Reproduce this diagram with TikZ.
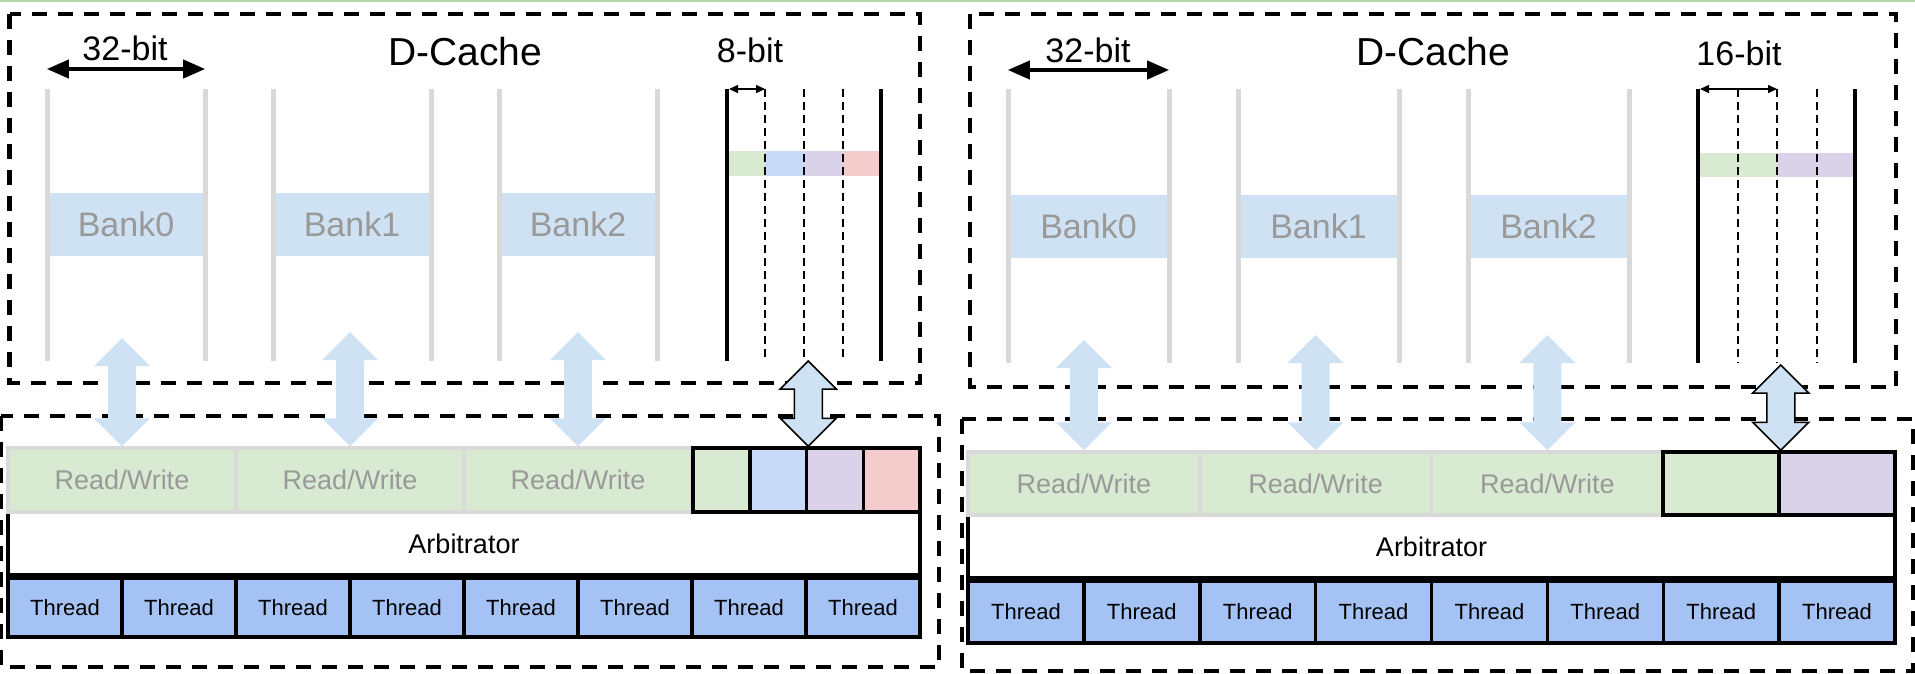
\documentclass[tikz,border=0pt]{standalone}
\usepackage{fontspec}
\setmainfont{Liberation Sans}
\usetikzlibrary{arrows.meta,calc}

\definecolor{wallgray}{HTML}{D9D9D9}
\definecolor{labelgray}{HTML}{999999}
\definecolor{bankblue}{HTML}{CFE2F3}
\definecolor{rwgreen}{HTML}{D9EAD3}
\definecolor{slotgreen}{HTML}{D9EAD3}
\definecolor{slotblue}{HTML}{C9DAF8}
\definecolor{slotpurple}{HTML}{D9D2E9}
\definecolor{slotred}{HTML}{F4CCCC}
\definecolor{threadblue}{HTML}{A4C2F4}
\definecolor{edgegreen}{HTML}{B6D7A8}

\newcommand{\busarrow}[3][bus]{\path[#1] (#2) -- ($(#2)+(28,28)$) -- ($(#2)+(14,28)$) -- ($(#3)+(14,-28)$) -- ($(#3)+(28,-28)$) -- (#3) -- ($(#3)+(-28,-28)$) -- ($(#3)+(-14,-28)$) -- ($(#2)+(-14,28)$) -- ($(#2)+(-28,28)$) -- cycle;}

\begin{document}
\begin{tikzpicture}[x=1pt,y=-1pt,
    framebox/.style={line width=4.5pt,dash pattern=on 15pt off 11pt},
    wall/.style={draw=wallgray,line width=5pt},
    rail/.style={line width=4.5pt},
    lane/.style={line width=1.5pt,dash pattern=on 8pt off 5pt},
    bank/.style={fill=bankblue,text=labelgray,inner sep=0pt,minimum height=63pt,font=\fontsize{34}{40}\selectfont},
    rw/.style={draw=wallgray,line width=3.5pt,fill=rwgreen,text=labelgray,minimum height=64pt,font=\fontsize{27}{32}\selectfont},
    slot/.style={draw,line width=3.5pt,minimum height=64pt},
    arb/.style={draw,line width=3.5pt,fill=white,minimum height=63pt,font=\fontsize{27}{32}\selectfont},
    thread/.style={draw,line width=3.5pt,fill=threadblue,font=\fontsize{22}{26}\selectfont},
    dimline/.style={line width=4pt,>={Triangle[length=22pt,width=18pt]},<->},
    dimtick/.style={line width=1.5pt,>={Triangle[length=9pt,width=8pt]},<->},
    bus/.style={fill=bankblue},
    busline/.style={fill=bankblue,draw,line width=1.5pt},
    cachetitle/.style={font=\fontsize{39}{44}\selectfont},
    bitlabel/.style={font=\fontsize{34}{40}\selectfont}]
\useasboundingbox (0,0) rectangle (1915,673);
\draw[edgegreen,line width=2.5pt] (0,1) -- (1915,1);
\draw[framebox] (9.5,14) rectangle (920,383);
\draw[framebox] (1,416) rectangle (939,667);
\draw[framebox] (970,14) rectangle (1896,387);
\draw[framebox] (962,419) rectangle (1913,671);

\foreach \i/\x in {0/47,1/273,2/499} {
    \node[bank,minimum width=158pt] at (\x+79,224.5) (lbank\i) {Bank\i};
    \draw[wall] (\x,89) -- (\x,361);
    \draw[wall] (\x+158,89) -- (\x+158,361);
}
\node[bitlabel] at (125,48) (lwide) {32-bit};
\draw[dimline] (lbank0.west |- 0,69) -- (lbank0.east |- 0,69);
\node[cachetitle] at (465,52) (lcache) {D-Cache};
\node[bitlabel] at (750,50) (lnarrow) {8-bit};
\foreach \x/\c in {727/slotgreen,765/slotblue,804/slotpurple,843/slotred}
    \fill[\c] (\x,151) rectangle (\x+38.5,176);
\foreach \x in {765,804,843}
    \draw[lane] (\x,89) -- (\x,361);
\draw[rail] (727,89) -- (727,361);
\draw[rail] (881,89) -- (881,361);
\draw[dimtick] (729,89) -- (765,89);

\node[arb,minimum width=912pt] at (464,543.5) (larb) {Arbitrator};
\foreach \i in {0,...,7}
    \node[thread,minimum width=114pt,minimum height=59pt] at (65+114*\i,607.5) (lthread\i) {Thread};
\foreach \i in {0,1,2}
    \node[rw,minimum width=228pt] at (122+228*\i,480) (lrw\i) {Read/Write};
\foreach \i/\c in {0/slotgreen,1/slotblue,2/slotpurple,3/slotred}
    \node[slot,fill=\c,minimum width=56.75pt] at (721.4+56.75*\i,480) (lslot\i) {};
\foreach \i/\y in {0/338,1/332,2/332} {
    \coordinate (ltop\i) at (lrw\i.north |- 0,\y);
    \busarrow{ltop\i}{lrw\i.north}
}
\coordinate (ltop3) at (lslot1.north east |- 0,361);
\busarrow[busline]{ltop3}{lslot1.north east}

\foreach \i/\x in {0/1008,1/1238,2/1468} {
    \node[bank,minimum width=161pt] at (\x+80.5,226.5) (rbank\i) {Bank\i};
    \draw[wall] (\x,89) -- (\x,363);
    \draw[wall] (\x+161,89) -- (\x+161,363);
}
\node[bitlabel] at (1088,50) (rwide) {32-bit};
\draw[dimline] (rbank0.west |- 0,70) -- (rbank0.east |- 0,70);
\node[cachetitle] at (1433,52) (rcache) {D-Cache};
\node[bitlabel] at (1739,53) (rnarrow) {16-bit};
\fill[slotgreen] (1698,153) rectangle (1777,177);
\fill[slotpurple] (1777,153) rectangle (1855,177);
\foreach \x in {1738,1777,1817}
    \draw[lane] (\x,89) -- (\x,363);
\draw[rail] (1698,89) -- (1698,363);
\draw[rail] (1855,89) -- (1855,363);
\draw[dimtick] (1700,89) -- (1777,89);

\node[arb,minimum width=927pt] at (1431.5,546.5) (rarb) {Arbitrator};
\foreach \i in {0,...,7}
    \node[thread,minimum width=115.875pt,minimum height=62pt] at (1025.94+115.875*\i,612) (rthread\i) {Thread};
\foreach \i in {0,1,2}
    \node[rw,minimum width=231.75pt,minimum height=63pt] at (1083.9+231.75*\i,483.5) (rrw\i) {Read/Write};
\foreach \i/\c in {0/slotgreen,1/slotpurple}
    \node[slot,fill=\c,minimum width=116pt,minimum height=63pt] at (1721+116*\i,483.5) (rslot\i) {};
\foreach \i/\y in {0/340,1/335,2/335} {
    \coordinate (rtop\i) at (rrw\i.north |- 0,\y);
    \busarrow{rtop\i}{rrw\i.north}
}
\coordinate (rtop3) at (rslot0.north east |- 0,365);
\busarrow[busline]{rtop3}{rslot0.north east}
\end{tikzpicture}
\end{document}
